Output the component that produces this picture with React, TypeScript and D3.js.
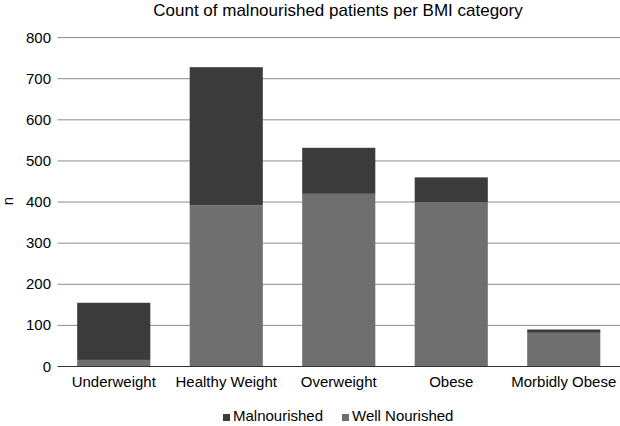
import React from "react";
import * as d3 from "d3";

const categories = ["Underweight", "Healthy Weight", "Overweight", "Obese", "Morbidly Obese"];
const wellNourished = [16, 392, 420, 400, 82];
const malnourished = [139, 336, 112, 60, 8];
const yTicks = [0, 100, 200, 300, 400, 500, 600, 700, 800];
const seriesNames = ["Malnourished", "Well Nourished"];

const W = 620;
const H = 426;
const FONT = "'Liberation Sans', Arial, Helvetica, sans-serif";
const DARK = "#3b3b3b";
const LIGHT = "#6f6f6f";

export default function App() {
  const left = 57.5;
  const right = 620;
  const top = 37.6;
  const bottom = 366.5;

  const x = d3.scaleBand<string>().domain(categories).range([left, right]).paddingInner(0.35).paddingOuter(0.175);
  const y = d3.scaleLinear().domain([0, 800]).range([bottom, top]);

  const data = categories.map((c, i) => ({ c, well: wellNourished[i], mal: malnourished[i] }));

  return (
    <svg width={W} height={H} style={{ position: "absolute", left: 0, top: 0, background: "#fff" }}>
      <rect width={W} height={H} fill="#fff" />
      <text x={338} y={16} textAnchor="middle" fontFamily={FONT} fontSize={17} fill="#000">
        Count of malnourished patients per BMI category
      </text>
      {yTicks.map((t) => (
        <g key={t}>
          {t !== 0 && <line x1={left} x2={right} y1={y(t)} y2={y(t)} stroke="#8c8c8c" strokeWidth={1} />}
          <text x={51} y={y(t) + 5} textAnchor="end" fontFamily={FONT} fontSize={15} fill="#000">
            {t}
          </text>
        </g>
      ))}
      {data.map((d) => (
        <g key={d.c}>
          <rect x={x(d.c)} width={x.bandwidth()} y={y(d.well)} height={y(0) - y(d.well)} fill={LIGHT} />
          <rect x={x(d.c)} width={x.bandwidth()} y={y(d.well + d.mal)} height={y(d.well) - y(d.well + d.mal)} fill={DARK} />
          <text x={(x(d.c) as number) + x.bandwidth() / 2} y={387} textAnchor="middle" fontFamily={FONT} fontSize={15} fill="#000">
            {d.c}
          </text>
        </g>
      ))}
      <line x1={left} x2={right} y1={y(0)} y2={y(0)} stroke="#333" strokeWidth={1.2} />
      <text transform={`translate(13,${201}) rotate(-90)`} textAnchor="middle" fontFamily={FONT} fontSize={15} fill="#000">
        n
      </text>
      {seriesNames.map((s, i) => {
        const lx = i === 0 ? 223 : 342;
        return (
          <g key={s}>
            <rect x={lx} y={414} width={7} height={7} fill={i === 0 ? DARK : LIGHT} />
            <text x={lx + 10} y={421} fontFamily={FONT} fontSize={15} fill="#000">
              {s}
            </text>
          </g>
        );
      })}
    </svg>
  );
}
